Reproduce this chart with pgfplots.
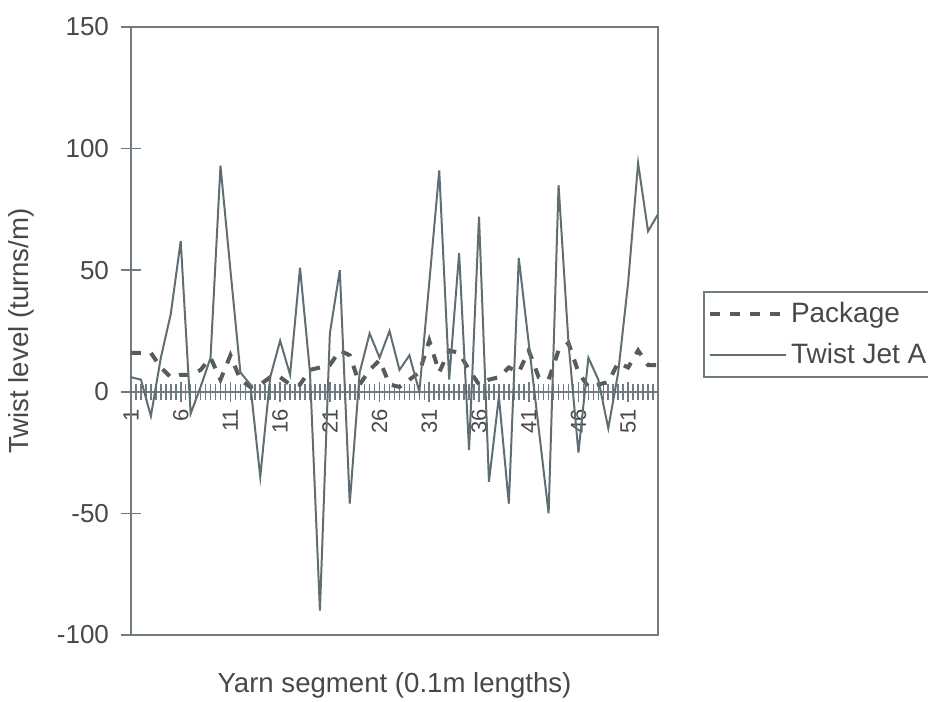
\documentclass[border=0pt]{standalone}
\usepackage{pgfplots}
\pgfplotsset{compat=1.18}
\usepackage{fontspec}
\setmainfont{Liberation Sans}
\definecolor{axisgray}{RGB}{112,124,130}
\definecolor{jetline}{RGB}{96,110,116}
\definecolor{pkgline}{RGB}{88,90,92}
\definecolor{txt}{RGB}{72,72,72}

\pgfplotstableread{
seg pkg jet
1 16 6
2 16 5
3 16 -10
4 10 14
5 6 32
6 7 62
7 7 -9
8 9 2
9 14 14
10 5 93
11 15 50
12 5 8
13 2 3
14 3 -35
15 6 6
16 6 21
17 3 7
18 3 51
19 9 8
20 10 -90
21 11 24
22 17 50
23 15 -46
24 3 8
25 9 24
26 13 14
27 3 25
28 2 9
29 5 15
30 8 0
31 21 45
32 8 91
33 17 5
34 16 57
35 9 -24
36 3 72
37 5 -37
38 6 -2
39 10 -46
40 8 55
41 17 20
42 6 -15
43 5 -50
44 17 85
45 20 20
46 8 -25
47 2 14
48 3 5
49 4 -15
50 12 8
51 10 45
52 17 94
53 11 66
54 11 73
}\twist

\begin{document}
\begin{tikzpicture}
\useasboundingbox (0,0) rectangle (464pt,351pt);
\begin{axis}[
  at={(65.5pt,33.5pt)}, anchor=south west,
  scale only axis, width=263.5pt, height=304pt,
  xmin=1, xmax=54, ymin=-100, ymax=150,
  clip=false,
  axis x line*=middle, axis y line*=left,
  hide obscured x ticks=false,
  axis line style={axisgray, line width=1pt},
  every tick/.style={axisgray, line width=0.8pt},
  tick align=center,
  major tick length=10pt, minor tick length=8pt,
  xtick={1,6,...,51},
  minor xtick={1,1.5,...,54},
  ytick={-100,-50,0,50,100,150},
  /pgf/number format/assume math mode=true,
  font=\color{txt},
  yticklabel style={font=\fontsize{13}{15}\selectfont\color{txt}, xshift=-2.5pt},
  xticklabel style={font=\fontsize{11}{13}\selectfont\color{txt}, rotate=90, anchor=east},
  every axis x label/.style={at={(axis description cs:0.5,0)}, anchor=center, yshift=-25pt},
  every axis y label/.style={at={(axis description cs:0,0.5)}, xshift=-55pt, rotate=90, anchor=center},
  label style={font=\fontsize{13.8}{16}\selectfont\color{txt}},
  xlabel={Yarn segment (0.1m lengths)},
  ylabel={Twist level (turns/m)},
  legend cell align=left,
  legend style={at={(axis description cs:1.0854,0.5658)}, anchor=north west,
    draw=axisgray, line width=1pt, font=\fontsize{14}{16}\selectfont\color{txt},
    inner xsep=2pt, inner ysep=3pt, row sep=5pt,
    nodes={inner xsep=1.5pt}},
  legend image code/.code={\draw[#1] (0pt,0pt) -- (38pt,0pt);},
]
\draw[axisgray, line width=1pt] (rel axis cs:0,0) rectangle (rel axis cs:1,1);
\addplot[pkgline, line width=2pt, dash pattern=on 5pt off 5pt] table[x=seg, y=pkg] {\twist};
\addlegendentry{Package}
\addplot[jetline, line width=1pt] table[x=seg, y=jet] {\twist};
\addlegendentry{Twist Jet A}
\end{axis}
\end{tikzpicture}
\end{document}
